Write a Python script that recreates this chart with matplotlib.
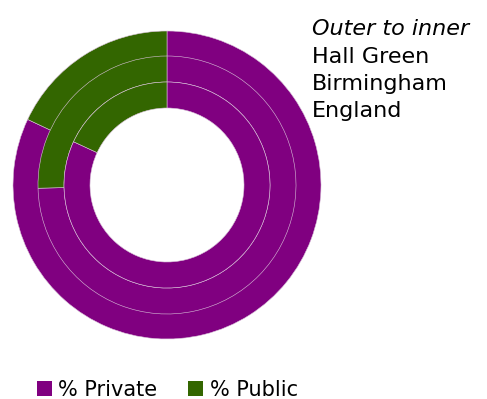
import matplotlib.pyplot as plt
from matplotlib.patches import Patch

areas = ['Hall Green', 'Birmingham', 'England']
private = [82.0, 74.6, 81.9]
public = [18.0, 25.4, 18.1]
labels = ['% Private', '% Public']
colours = ['#800080', '#336600']

plt.rcParams['font.family'] = ['DejaVu Sans']

fig = plt.figure(figsize=(4.87, 3.99), dpi=100)
# pie centred at (167, 185) px, outer radius 154 px
ax = fig.add_axes([(167 - 154) / 487, 1 - (185 + 154) / 399, 308 / 487, 308 / 399])

radii = [1.0, 129 / 154, 103 / 154]
width = 26 / 154
for r, pv, pb in zip(radii, private, public):
    ax.pie([pv, pb], radius=r, colors=colours, startangle=90, counterclock=False,
           wedgeprops=dict(width=width, edgecolor='#d9c2d9', linewidth=0.4))
ax.set_xlim(-1, 1)
ax.set_ylim(-1, 1)
ax.set_aspect('equal')

fig.text(312 / 487, 1 - 35 / 399, 'Outer to inner', fontsize=16, style='italic',
         va='baseline')
for i, name in enumerate(areas):
    fig.text(312 / 487, 1 - (63 + 27 * i) / 399, name, fontsize=16, va='baseline')

handles = [Patch(facecolor=c, edgecolor='none') for c in colours]
fig.legend(handles, labels, loc='lower left', bbox_to_anchor=(18 / 487, -0.05),
           ncol=2, frameon=False, fontsize=15, handlelength=0.72, handleheight=0.72,
           handletextpad=0.3, columnspacing=1.5)

fig.savefig('out.png', dpi=100)
